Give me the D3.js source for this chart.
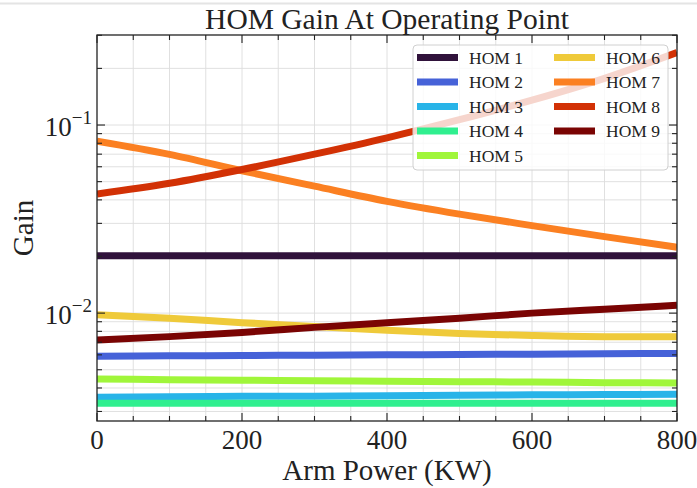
<!DOCTYPE html>
<html>
<head>
<meta charset="utf-8">
<script src="https://cdn.jsdelivr.net/npm/d3@7"></script>
<style>
  body { margin: 0; background: #fff; }
  svg { display: block; }
</style>
</head>
<body>
<svg id="chart" width="697" height="488"></svg>
<script>
// Arm power samples (kW)
const power = [0, 100, 200, 300, 400, 500, 600, 700, 800];

// Gain of each higher-order mode at the operating point
const hom1 = [0.0202, 0.0202, 0.0202, 0.0202, 0.0202, 0.0202, 0.0202, 0.0202, 0.0202];
const hom2 = [0.00590, 0.00593, 0.00595, 0.00598, 0.00600, 0.00603, 0.00605, 0.00608, 0.00610];
const hom3 = [0.00357, 0.00359, 0.00361, 0.00362, 0.00364, 0.00366, 0.00368, 0.00369, 0.00371];
const hom4 = [0.00332, 0.00332, 0.00332, 0.00332, 0.00332, 0.00332, 0.00332, 0.00332, 0.00332];
const hom5 = [0.00446, 0.00443, 0.00440, 0.00437, 0.00434, 0.00432, 0.00430, 0.00427, 0.00425];
const hom6 = [0.0098, 0.0094, 0.0089, 0.0085, 0.0081, 0.0078, 0.0076, 0.0075, 0.0075];
const hom7 = [0.0820, 0.0698, 0.0571, 0.0473, 0.0393, 0.0336, 0.0292, 0.0255, 0.0224];
const hom8 = [0.0430, 0.0490, 0.0580, 0.0700, 0.0855, 0.1067, 0.1355, 0.1770, 0.2427];
const hom9 = [0.0072, 0.0075, 0.0079, 0.0084, 0.0089, 0.0094, 0.0100, 0.0105, 0.0110];

const seriesNames = ["HOM 1", "HOM 2", "HOM 3", "HOM 4", "HOM 5", "HOM 6", "HOM 7", "HOM 8", "HOM 9"];
const seriesValues = [hom1, hom2, hom3, hom4, hom5, hom6, hom7, hom8, hom9];
const seriesColors = ["#30123b", "#4662d8", "#28b4e8", "#30ef8f", "#a0f63a",
                      "#efca3a", "#fb8022", "#d23105", "#7a0403"];

const xMajorTicks = [0, 200, 400, 600, 800];
const xMinorStep = 50;
const yMajorTicks = [0.01, 0.1];
const yMajorExponents = ["−2", "−1"];

const title = "HOM Gain At Operating Point";
const xLabel = "Arm Power (KW)";
const yLabel = "Gain";

const FONT = "'Liberation Serif', 'Times New Roman', serif";
const INK = "#222";

const svg = d3.select("#chart");
const plot = { left: 97, right: 677, top: 35, bottom: 421 };

const x = d3.scaleLinear().domain([0, 800]).range([plot.left, plot.right]);
const y = d3.scaleLog().domain([0.00267, 0.301]).range([plot.bottom, plot.top]);

// faint rule across the top of the page
svg.append("line")
  .attr("x1", 0).attr("x2", 697).attr("y1", 3.5).attr("y2", 3.5)
  .attr("stroke", "#e4e4e4").attr("stroke-width", 2);

// clip for the data lines
svg.append("defs").append("clipPath").attr("id", "plotClip")
  .append("rect")
  .attr("x", plot.left).attr("y", plot.top)
  .attr("width", plot.right - plot.left).attr("height", plot.bottom - plot.top);

// grid (major + minor)
const xGridVals = d3.range(0, 800 + 1, xMinorStep);
const yGridVals = y.ticks().filter(v => y(v) > plot.top + 0.5 && y(v) < plot.bottom - 0.5);

const grid = svg.append("g").attr("stroke", "#dcdcdc").attr("stroke-width", 0.9);
grid.selectAll(".vg").data(xGridVals.filter(v => v > 0 && v < 800)).join("line")
  .attr("x1", d => x(d)).attr("x2", d => x(d))
  .attr("y1", plot.top).attr("y2", plot.bottom);
grid.selectAll(".hg").data(yGridVals).join("line")
  .attr("x1", plot.left).attr("x2", plot.right)
  .attr("y1", d => y(d)).attr("y2", d => y(d));

// data lines
const line = d3.line()
  .x(d => x(d[0]))
  .y(d => y(d[1]))
  .curve(d3.curveMonotoneX);

const lines = svg.append("g").attr("clip-path", "url(#plotClip)");
seriesValues.forEach((vals, i) => {
  lines.append("path")
    .datum(power.map((p, k) => [p, vals[k]]))
    .attr("fill", "none")
    .attr("stroke", seriesColors[i])
    .attr("stroke-width", 7)
    .attr("d", line);
});

// frame
svg.append("rect")
  .attr("x", plot.left).attr("y", plot.top)
  .attr("width", plot.right - plot.left).attr("height", plot.bottom - plot.top)
  .attr("fill", "none").attr("stroke", INK).attr("stroke-width", 1.3);

// inward ticks on all four sides
const ticks = svg.append("g").attr("stroke", INK).attr("stroke-width", 1.1);
const majLen = 8, minLen = 5;
xGridVals.forEach(v => {
  const len = xMajorTicks.includes(v) ? majLen : minLen;
  ticks.append("line").attr("x1", x(v)).attr("x2", x(v))
    .attr("y1", plot.bottom).attr("y2", plot.bottom - len);
  ticks.append("line").attr("x1", x(v)).attr("x2", x(v))
    .attr("y1", plot.top).attr("y2", plot.top + len);
});
y.ticks().filter(v => y(v) >= plot.top && y(v) <= plot.bottom).forEach(v => {
  const len = yMajorTicks.some(m => Math.abs(m - v) < 1e-12) ? majLen : minLen;
  ticks.append("line").attr("y1", y(v)).attr("y2", y(v))
    .attr("x1", plot.left).attr("x2", plot.left + len);
  ticks.append("line").attr("y1", y(v)).attr("y2", y(v))
    .attr("x1", plot.right).attr("x2", plot.right - len);
});

// x tick labels
svg.append("g").selectAll("text").data(xMajorTicks).join("text")
  .attr("x", d => x(d)).attr("y", plot.bottom + 28)
  .attr("text-anchor", "middle")
  .attr("font-family", FONT).attr("fill", INK)
  .attr("font-size", 27)
  .text(d => d);

// y tick labels (powers of ten)
yMajorTicks.forEach((v, i) => {
  const t = svg.append("text")
    .attr("x", plot.left - 5).attr("y", y(v) + 11)
    .attr("text-anchor", "end")
    .attr("font-family", FONT).attr("fill", INK)
    .attr("font-size", 27);
  t.append("tspan").text("10");
  t.append("tspan").attr("dy", -12).attr("font-size", 19).text(yMajorExponents[i]);
});

// axis titles
svg.append("text")
  .attr("x", (plot.left + plot.right) / 2).attr("y", 480)
  .attr("text-anchor", "middle")
  .attr("font-family", FONT).attr("fill", INK).attr("font-size", 29)
  .text(xLabel);

svg.append("text")
  .attr("transform", `translate(33, ${(plot.top + plot.bottom) / 2}) rotate(-90)`)
  .attr("text-anchor", "middle")
  .attr("font-family", FONT).attr("fill", INK).attr("font-size", 29)
  .text(yLabel);

svg.append("text")
  .attr("x", (plot.left + plot.right) / 2).attr("y", 29)
  .attr("text-anchor", "middle")
  .attr("font-family", FONT).attr("fill", INK).attr("font-size", 29.5)
  .text(title);

// legend, two columns
const legend = svg.append("g");
legend.append("rect")
  .attr("x", 413).attr("y", 45).attr("width", 255).attr("height", 125)
  .attr("rx", 4).attr("fill", "#fff").attr("fill-opacity", 0.8)
  .attr("stroke", "#d0d0d0").attr("stroke-width", 1);

const rowY = d3.scaleLinear().domain([0, 4]).range([57.5, 155.5]);
const colX = [417, 554];
seriesNames.forEach((name, i) => {
  const col = i < 5 ? 0 : 1;
  const row = i < 5 ? i : i - 5;
  const ly = rowY(row);
  legend.append("line")
    .attr("x1", colX[col]).attr("x2", colX[col] + 41)
    .attr("y1", ly).attr("y2", ly)
    .attr("stroke", seriesColors[i]).attr("stroke-width", 7);
  legend.append("text")
    .attr("x", colX[col] + 52).attr("y", ly + 6)
    .attr("font-family", FONT).attr("fill", INK)
    .attr("font-size", 17.5)
    .text(name);
});
</script>
</body>
</html>
